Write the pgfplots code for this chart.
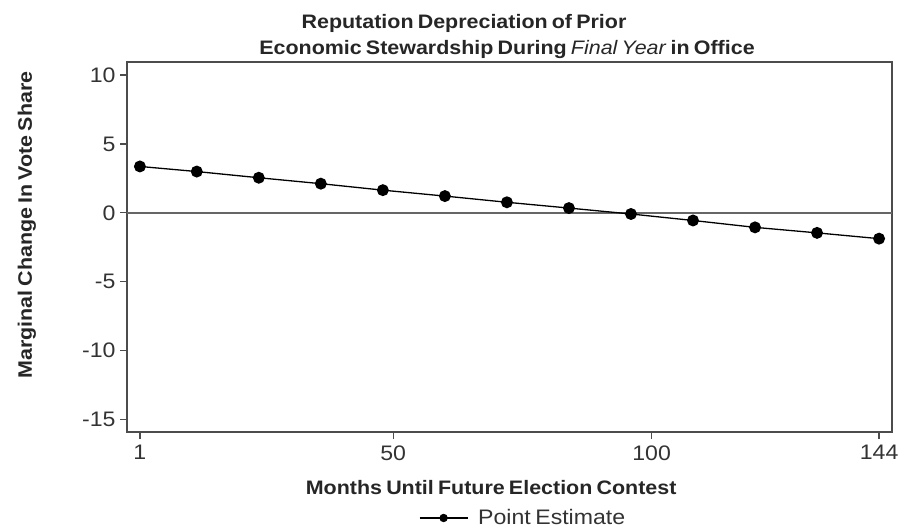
\documentclass[border=0pt]{standalone}
\usepackage{pgfplots}
\pgfplotsset{compat=1.18}
\usepackage{fontspec}
\setmainfont[FakeStretch=1.1, WordSpace=0.7]{Liberation Sans}
\pgfplotstableread{
x y
1 3.37
12 3.00
24 2.55
36 2.12
48 1.65
60 1.22
72 0.77
84 0.35
96 -0.08
108 -0.55
120 -1.05
132 -1.45
144 -1.87
}\est
\begin{document}
\begin{tikzpicture}[x=1pt,y=1pt]
\begin{axis}[
  at={(0,0)}, anchor=south west,
  width=765pt, height=370pt, scale only axis,
  xmin=-1.5, xmax=146.5, ymin=-15.9, ymax=10.95,
  xtick={1,50,100,144}, ytick={-15,-10,-5,0,5,10},
  tick align=outside, tick pos=left, major tick length=7pt,
  axis line style={draw=black!70, line width=1.3pt},
  every tick/.style={black!70, line width=1.2pt},
  tick label style={font=\fontsize{21}{24}\selectfont, text=black!80},
  /pgf/number format/assume math mode=true,
  xticklabel style={yshift=-3pt},
  yticklabel style={xshift=-1pt},
  xlabel={Months Until Future Election Contest},
  xlabel style={at={(axis description cs:0.476,0)}, anchor=base, yshift=-63pt, font=\bfseries\fontsize{19.5}{22}\selectfont, text=black!85},
  legend style={at={(axis description cs:0.523,-0.2324)}, anchor=center, draw=none, fill=none, font=\fontsize{21}{24}\selectfont, text=black!80, nodes={inner xsep=10pt}},
  legend image code/.code={\draw[mark repeat=2,mark phase=2,#1,mark size=3.5pt] plot coordinates {(0pt,0pt) (24pt,0pt) (48pt,0pt)};},
]
\addplot[forget plot, draw=black!60, line width=2pt] coordinates {(-1.5,0) (146.5,0)};
\addplot[black, line width=1.3pt, mark=*, mark size=5.3pt, mark options={fill=black}] table[x=x,y=y] {\est};
\addlegendentry{Point Estimate}
\end{axis}
\node[rotate=90, font=\bfseries\fontsize{19.5}{22}\selectfont, text=black!85] at (-100,207) {Marginal Change In Vote Share};
\node[anchor=base, font=\bfseries\fontsize{19.5}{22}\selectfont, text=black!85] at (337,403) {Reputation Depreciation of Prior};
\node[anchor=base, font=\bfseries\fontsize{19.5}{22}\selectfont, text=black!85] at (380,377) {Economic Stewardship During \textmd{\textit{Final Year}} in Office};
\pgfresetboundingbox
\useasboundingbox (-127,-98) rectangle (773,432);
\end{tikzpicture}
\end{document}
